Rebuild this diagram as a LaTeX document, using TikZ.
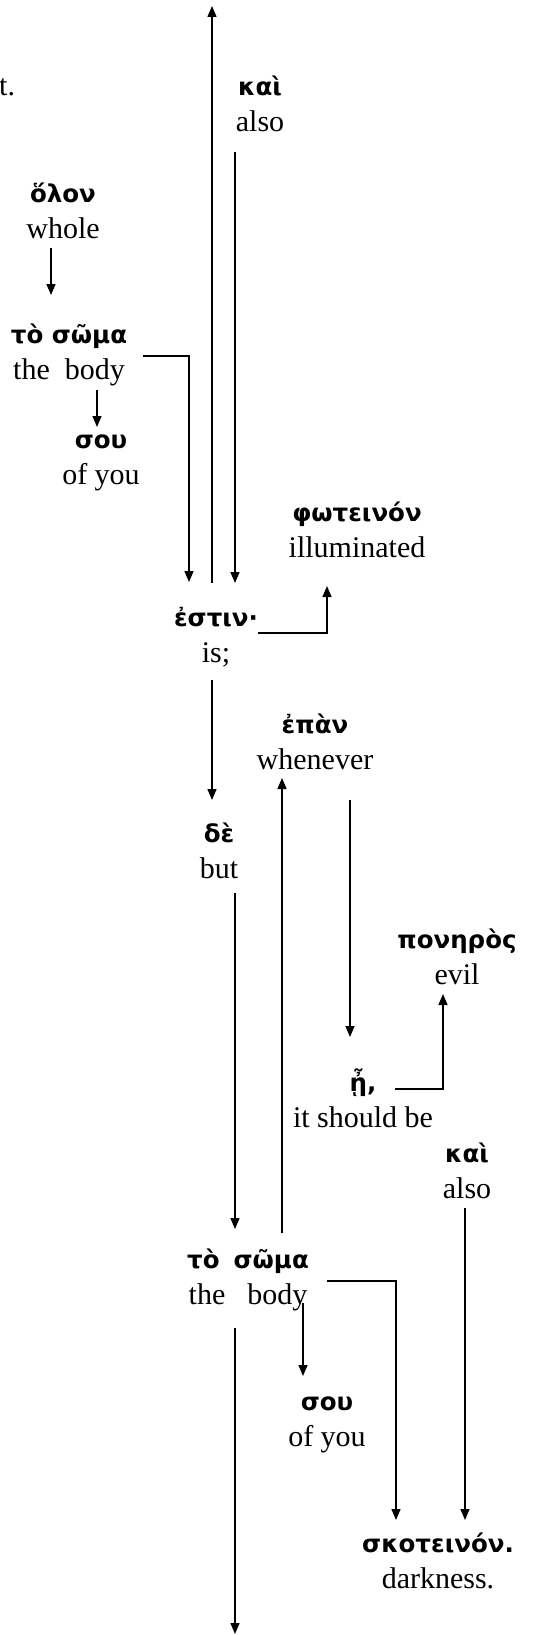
\documentclass[tikz,border=0pt]{standalone}
\usepackage{fontspec}
\setmainfont{Liberation Serif}
\newfontfamily\gkfont{DejaVu Sans}
\usetikzlibrary{arrows.meta}
\newcommand{\gk}[1]{{\gkfont\bfseries\fontsize{24.5}{36}\selectfont\rule{0pt}{26pt}#1}}
\begin{document}
\begin{tikzpicture}[x=1pt,y=-1pt,
  word/.style={align=center,inner sep=0pt,anchor=north,font=\fontsize{30}{36}\selectfont},
  conn/.style={line width=1.4pt},
  arr/.style={conn,-{Triangle[length=11pt,width=9pt]}}]
\useasboundingbox (0,0) rectangle (546,1635);
% words
\node[anchor=base west,inner sep=0pt,font=\fontsize{30}{36}\selectfont] (tdot) at (-1,96) {t.};
\node[word] (kai1) at (260,69) {\gk{καὶ}\\also};
\node[word] (olon) at (63,176) {\gk{ὅλον}\\whole};
\node[word] (soma1) at (69,317) {\gk{τὸ σῶμα}\\the\hspace{15pt}body};
\node[word] (sou1) at (101,422) {\gk{σου}\\of you};
\node[word] (phot) at (357,495) {\gk{φωτεινόν}\\illuminated};
\node[word] (estin) at (216,600) {\gk{ἐστιν·}\\is;};
\node[word] (epan) at (315,707) {\gk{ἐπὰν}\\whenever};
\node[word] (de) at (219,816) {\gk{δὲ}\\but};
\node[word] (poneros) at (457,922) {\gk{πονηρὸς}\\evil};
\node[word] (ee) at (363,1065) {\gk{ᾖ,}\\it should be};
\node[word] (kai2) at (467,1136) {\gk{καὶ}\\also};
\node[word] (soma2) at (248,1242) {\gk{τὸ\hspace{14pt}σῶμα}\\the\hspace{22pt}body};
\node[word] (sou2) at (327,1384) {\gk{σου}\\of you};
\node[word] (skot) at (438,1526) {\gk{σκοτεινόν.}\\darkness.};
\coordinate (top) at (212,6);
\coordinate (bottom) at (235,1634);
% connectors
\draw[arr] ([shift={(-4,-17)}]estin.north) -- (top);
\draw[arr] ([shift={(-25,83)}]kai1.north) -- ([shift={(19,-17)}]estin.north);
\draw[arr] ([shift={(-12,72)}]olon.north) -- ([shift={(-18,-22)}]soma1.north);
\draw[arr] ([shift={(74,39)}]soma1.north) -| ([shift={(-27,-18)}]estin.north);
\draw[arr] ([shift={(28,73)}]soma1.north) -- ([shift={(-4,5)}]sou1.north);
\draw[arr] ([shift={(42,33)}]estin.north) -| ([shift={(-30,91)}]phot.north);
\draw[arr] ([shift={(-4,80)}]estin.north) -- ([shift={(-7,-16)}]de.north);
\draw[arr] ([shift={(34,-9)}]soma2.north) -- ([shift={(-33,71)}]epan.north);
\draw[arr] ([shift={(35,93)}]epan.north) -- ([shift={(-13,-28)}]ee.north);
\draw[arr] ([shift={(32,24)}]ee.north) -| ([shift={(-14,72)}]poneros.north);
\draw[arr] ([shift={(16,77)}]de.north) -- ([shift={(-13,-13)}]soma2.north);
\draw[arr] ([shift={(-2,72)}]kai2.north) -- ([shift={(27,-6)}]skot.north);
\draw[arr] ([shift={(79,39)}]soma2.north) -| ([shift={(-42,-6)}]skot.north);
\draw[arr] ([shift={(55,61)}]soma2.north) -- ([shift={(-24,-8)}]sou2.north);
\draw[arr] ([shift={(-13,86)}]soma2.north) -- (bottom);
\end{tikzpicture}
\end{document}
